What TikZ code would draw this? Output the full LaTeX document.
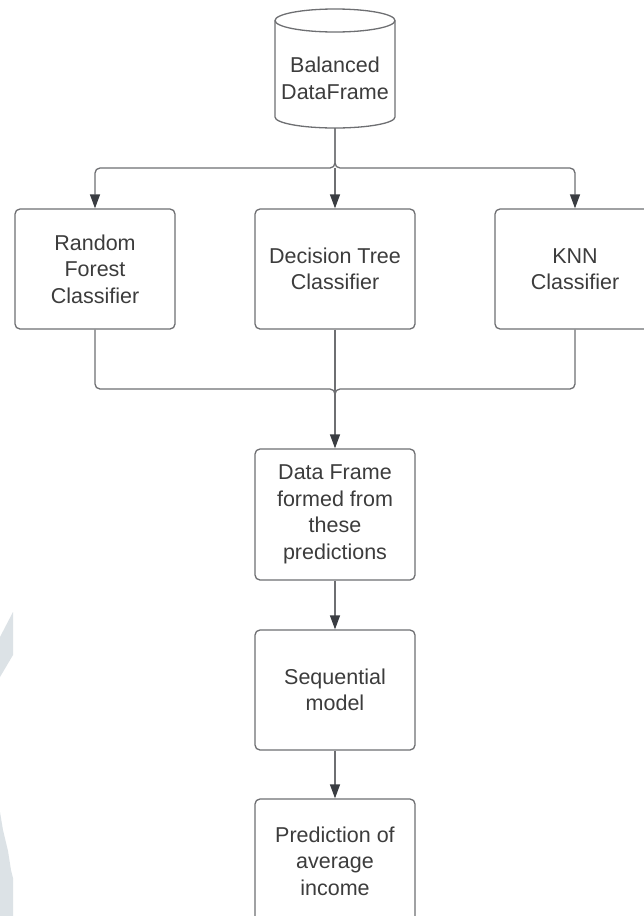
\documentclass[tikz,border=0pt]{standalone}
\usepackage{fontspec}
\setmainfont{Liberation Sans}
\usetikzlibrary{arrows.meta}
\definecolor{edgec}{HTML}{6E6F72}
\definecolor{tipc}{HTML}{3A3D42}
\definecolor{txtc}{HTML}{3C3C3C}
\definecolor{wmark}{HTML}{DCE2E6}
\begin{document}
\begin{tikzpicture}[x=1pt,y=-1pt,
  every node/.style={font=\fontsize{21.5}{26.5}\selectfont, text=txtc, align=center},
  procbox/.style={draw=edgec, line width=1.3pt, rounded corners=5pt,
    minimum width=160pt, minimum height=120pt, inner sep=0pt},
  conn/.style={draw=edgec, line width=1.3pt, rounded corners=5pt,
    -{Triangle[length=14pt,width=10pt,color=tipc]}},
  link/.style={draw=edgec, line width=1.3pt, rounded corners=5pt}]
\useasboundingbox (0,0) rectangle (644,916);
\clip (0,0) rectangle (644,916);
\fill[white] (0,0) rectangle (644,916);

% faint shapes along the left edge
\fill[wmark] (0,637) -- (13,612) -- (13,655) -- (0,677) -- cycle;
\fill[wmark] (0,812) -- (3,830) -- (8,851) -- (11,870) -- (13,878) -- (13,916) -- (0,916) -- cycle;

% database cylinder
\draw[edgec, line width=1.3pt, fill=white]
  (275,20.5) -- (275,117) arc[start angle=180, end angle=360, x radius=60pt, y radius=11pt]
  -- (395,20.5);
\draw[edgec, line width=1.3pt] (335,20.5) ellipse [x radius=60pt, y radius=11.5pt];
\node[minimum width=120pt, minimum height=99pt, inner sep=0pt] (db) at (335,78.5) {Balanced\\DataFrame};

% classifiers
\node[procbox] (rf) at (95,269) {Random\\Forest\\Classifier};
\node[procbox] (dt) at (335,269) {Decision Tree\\Classifier};
\node[procbox] (kn) at (575,269) {KNN\\Classifier};

% downstream stages
\node[procbox, minimum height=131pt] (df) at (335,514.5) {Data Frame\\formed from\\these\\predictions};
\node[procbox] (sq) at (335,690) {Sequential\\model};
\node[procbox, minimum height=124pt] (pr) at (335,861) {Prediction of\\average\\income};

\coordinate (split) at (335,168);
\coordinate (merge) at (335,389);

% fan-out from the data frame
\draw[conn] (db.south) -- (split) -| (rf.north);
\draw[conn] (db.south) -- (split) -| (kn.north);
\draw[conn] (split) -- (dt.north);

% fan-in of the predictions
\draw[link] (rf.south) |- (merge) -- (335,400);
\draw[link] (kn.south) |- (merge) -- (335,400);
\draw[conn] (dt.south) -- (df.north);

\draw[conn] (df.south) -- (sq.north);
\draw[conn] (sq.south) -- (pr.north);
\end{tikzpicture}
\end{document}
